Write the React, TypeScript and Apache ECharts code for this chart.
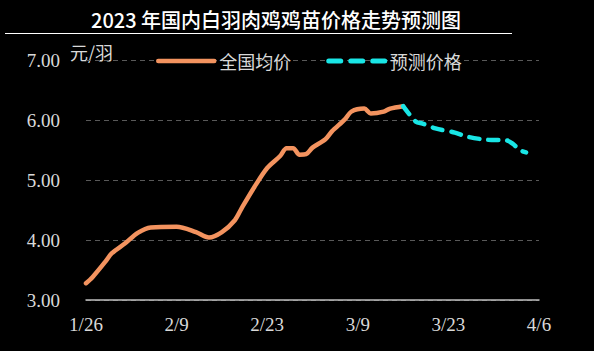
import React, { useEffect, useRef } from "react";
import * as echarts from "echarts";

const titleText = "2023 年国内白羽肉鸡鸡苗价格走势预测图";
const unitText = "元/羽";
const seriesNames = ["全国均价", "预测价格"];

const actualDates = [
  "1/26", "1/27", "1/29", "1/30", "2/1", "2/3", "2/5", "2/9", "2/12", "2/14",
  "2/16", "2/18", "2/19", "2/21", "2/23", "2/25", "2/26", "2/27", "2/28", "3/1",
  "3/2", "3/4", "3/5", "3/7", "3/8", "3/10", "3/11", "3/13", "3/14", "3/16",
];
const actualValues = [
  3.28, 3.38, 3.64, 3.78, 3.94, 4.12, 4.21, 4.22, 4.13, 4.04,
  4.13, 4.33, 4.52, 4.88, 5.2, 5.4, 5.53, 5.53, 5.42, 5.43,
  5.54, 5.68, 5.81, 6.01, 6.14, 6.19, 6.11, 6.14, 6.19, 6.23,
];
const forecastDates = ["3/16", "3/18", "3/19", "3/21", "3/24", "3/26", "3/29", "4/1", "4/2", "4/3", "4/4"];
const forecastValues = [6.23, 5.97, 5.94, 5.86, 5.79, 5.72, 5.67, 5.66, 5.6, 5.5, 5.46];

const startDate = "2023-01-26";
const endDate = "2023-04-06";

function buildCategories(): string[] {
  const out: string[] = [];
  const d = new Date(startDate + "T00:00:00");
  const e = new Date(endDate + "T00:00:00");
  while (d <= e) {
    out.push(`${d.getMonth() + 1}/${d.getDate()}`);
    d.setDate(d.getDate() + 1);
  }
  return out;
}

function toSeries(cats: string[], dates: string[], values: number[]) {
  const arr: (number | null)[] = cats.map(() => null);
  dates.forEach((dt, i) => {
    const idx = cats.indexOf(dt);
    if (idx >= 0) arr[idx] = values[i];
  });
  return arr;
}

const ORANGE = "#F3935F";
const CYAN = "#19E6E6";
const TEXT = "#D9D9D9";
const SERIF = "Liberation Serif";
const CJK = "Noto Sans CJK SC";

export default function App() {
  const ref = useRef<HTMLDivElement>(null);
  useEffect(() => {
    if (!ref.current) return;
    const chart = echarts.init(ref.current, undefined, { renderer: "svg" });
    const cats = buildCategories();
    chart.setOption({
      animation: false,
      backgroundColor: "#000000",
      textStyle: { fontFamily: SERIF },
      title: {
        text: titleText,
        left: 86,
        top: 4,
        textStyle: {
          color: "#FFFFFF",
          fontSize: 20,
          fontWeight: 500,
          fontFamily: CJK,
        },
      },
      graphic: [
        {
          type: "line",
          shape: { x1: 5, y1: 33.5, x2: 512, y2: 33.5 },
          style: { stroke: "#FFFFFF", lineWidth: 1.2 },
        },
        {
          type: "text",
          left: 70,
          top: 43,
          style: {
            text: unitText,
            fill: TEXT,
            fontSize: 18,
            fontFamily: CJK,
          },
        },
      ],
      legend: {
        left: 151,
        top: 47,
        itemWidth: 56,
        itemHeight: 20,
        itemGap: 35,
        itemStyle: { opacity: 0 },
        textStyle: { color: TEXT, fontSize: 18, fontFamily: CJK },
        data: [
          { name: seriesNames[0], lineStyle: { color: ORANGE, width: 4.5, cap: "round" } },
          { name: seriesNames[1], lineStyle: { color: CYAN, width: 5, type: [12, 10], cap: "round" } },
        ],
      },
      grid: { left: 86, right: 55, top: 60, bottom: 51 },
      xAxis: {
        type: "category",
        data: cats,
        boundaryGap: false,
        axisLine: { lineStyle: { color: "#BFBFBF", width: 1.5 } },
        axisTick: { show: false },
        axisLabel: {
          interval: 13,
          color: TEXT,
          fontSize: 19,
          fontFamily: SERIF,
          margin: 15,
        },
        splitLine: { show: false },
      },
      yAxis: {
        type: "value",
        min: 3,
        max: 7,
        interval: 1,
        axisLine: { show: false },
        axisTick: { show: false },
        axisLabel: {
          color: TEXT,
          fontSize: 19,
          fontFamily: SERIF,
          margin: 26,
          formatter: (v: number) => v.toFixed(2),
        },
        splitLine: { lineStyle: { color: "#595959", type: [5, 4], width: 1 } },
      },
      series: [
        {
          name: seriesNames[0],
          type: "line",
          data: toSeries(cats, actualDates, actualValues),
          connectNulls: true,
          smooth: 0.3,
          symbol: "none",
          lineStyle: { color: ORANGE, width: 4.5, cap: "round", join: "round" },
          itemStyle: { color: ORANGE },
          z: 3,
        },
        {
          name: seriesNames[1],
          type: "line",
          data: toSeries(cats, forecastDates, forecastValues),
          connectNulls: true,
          smooth: 0.3,
          symbol: "none",
          lineStyle: { color: CYAN, width: 4.5, type: [10, 9], cap: "round" },
          itemStyle: { color: CYAN },
          z: 3,
        },
      ],
    });
    return () => chart.dispose();
  }, []);
  return (
    <div
      ref={ref}
      style={{ position: "absolute", left: 0, top: 0, width: 594, height: 351, background: "#000" }}
    />
  );
}
